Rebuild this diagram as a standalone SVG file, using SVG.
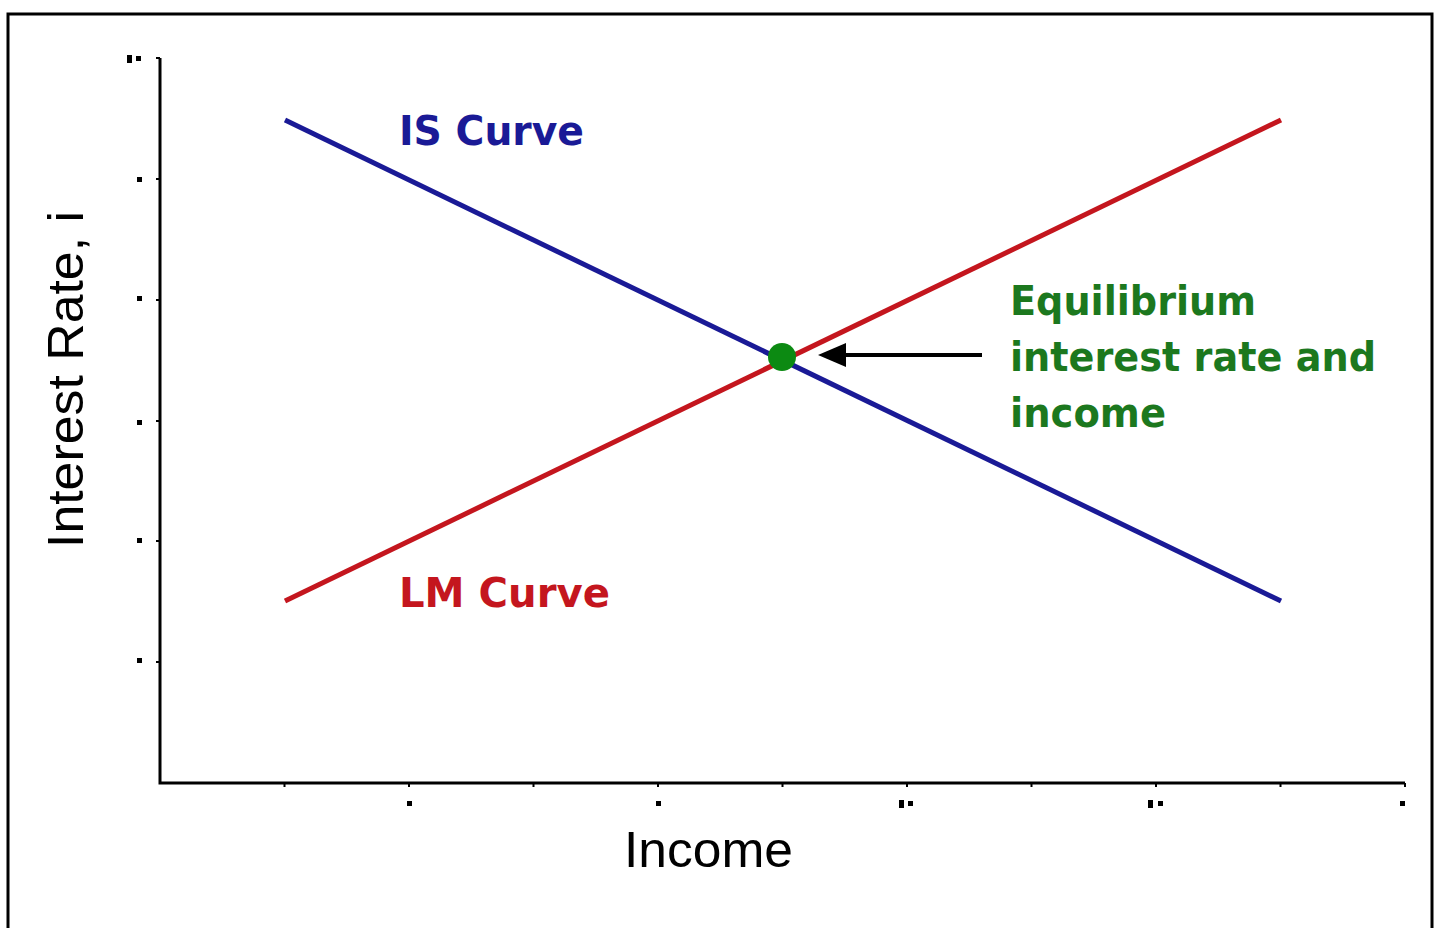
<svg xmlns="http://www.w3.org/2000/svg" width="1440" height="928" viewBox="0 0 1440 928">
<style>
.axis{stroke:#000;stroke-width:3;fill:none}
.tick{stroke:#000;stroke-width:2}
.dot{fill:#000}
.lbl{font-family:"DejaVu Sans",Verdana,sans-serif;font-weight:bold;font-size:40px}
.ax{font-family:"Liberation Sans",Arial,sans-serif;font-size:50px;fill:#000}
</style>
<rect x="0" y="0" width="1440" height="928" fill="#fff"/>
<rect x="8" y="14" width="1424" height="930" fill="none" stroke="#000" stroke-width="3"/>
<g id="axes">
<path class="axis" d="M160 58 V783 H1405"/>
<g class="tick">
<path d="M156 58H160M156 179H160M156 300H160M156 421H160M156 541H160M156 662H160"/>
<path d="M284.5 783V787M409 783V787M533.5 783V787M658 783V787M782.5 783V787M907 783V787M1031.5 783V787M1156 783V787M1280.5 783V787M1405 783V787"/>
</g>
<g class="dot">
<rect x="127" y="55" width="5" height="8"/><rect x="136" y="56" width="5" height="5"/>
<rect x="137" y="177" width="5" height="5"/>
<rect x="137" y="296" width="5" height="5"/>
<rect x="137" y="420" width="5" height="5"/>
<rect x="137" y="538" width="5" height="5"/>
<rect x="137" y="658" width="5" height="5"/>
<rect x="407" y="801" width="5" height="5"/>
<rect x="656" y="801" width="5" height="5"/>
<rect x="899" y="800" width="5" height="8"/><rect x="908" y="801" width="5" height="5"/>
<rect x="1148" y="800" width="5" height="8"/><rect x="1158" y="801" width="5" height="5"/>
<rect x="1400" y="801" width="5" height="5"/>
</g>
</g>
<g id="connectors">
<line id="is-curve" x1="285" y1="120" x2="1281" y2="601" stroke="#1a1a96" stroke-width="5"/>
<line id="lm-curve" x1="285" y1="601" x2="1281" y2="120" stroke="#c4161e" stroke-width="5"/>
<line x1="982" y1="355" x2="840" y2="355" stroke="#000" stroke-width="4"/>
<polygon points="818,355 846,343 846,367" fill="#000"/>
</g>
<g id="equilibrium">
<circle cx="782" cy="357" r="14" fill="#0c8a12"/>
</g>
<g id="labels">
<text class="lbl" x="399" y="145" fill="#1a1a96" textLength="185" lengthAdjust="spacingAndGlyphs">IS Curve</text>
<text class="lbl" x="399" y="607" fill="#c4161e" textLength="211" lengthAdjust="spacingAndGlyphs">LM Curve</text>
<text class="lbl" x="1010" y="315" fill="#1c781e" textLength="246" lengthAdjust="spacingAndGlyphs">Equilibrium</text>
<text class="lbl" x="1010" y="371" fill="#1c781e" textLength="366" lengthAdjust="spacingAndGlyphs">interest rate and</text>
<text class="lbl" x="1010" y="427" fill="#1c781e" textLength="156" lengthAdjust="spacingAndGlyphs">income</text>
<text class="ax" x="624" y="867" textLength="169" lengthAdjust="spacingAndGlyphs">Income</text>
<text class="ax" transform="translate(83 548) rotate(-90)" x="0" y="0" textLength="337" lengthAdjust="spacingAndGlyphs">Interest Rate, i</text>
</g>
</svg>
